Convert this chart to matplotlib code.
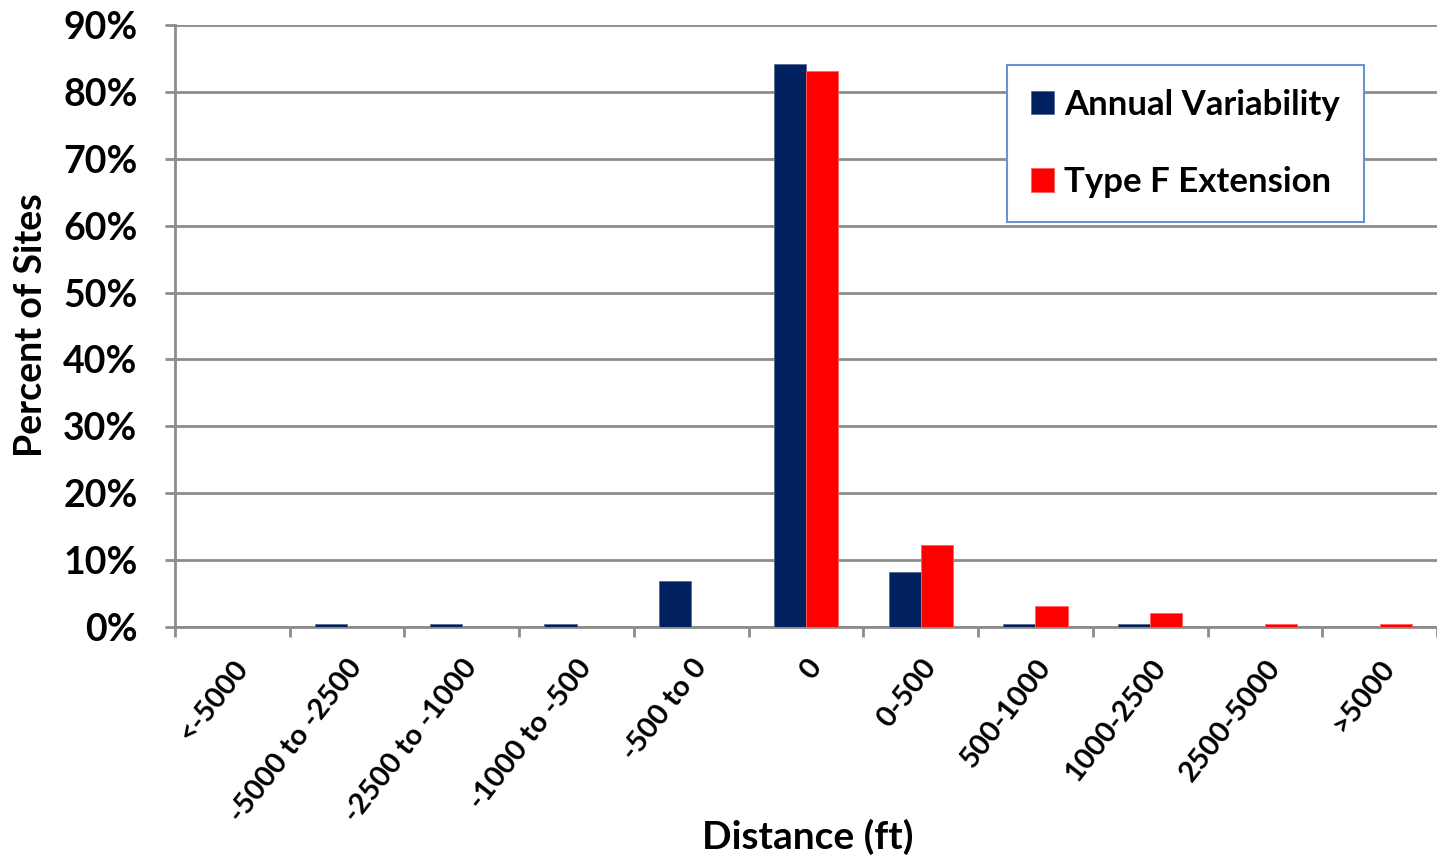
import numpy as np
import matplotlib
matplotlib.use("Agg")
import matplotlib.pyplot as plt
from matplotlib.ticker import FuncFormatter

categories = ["<-5000", "-5000 to -2500", "-2500 to -1000", "-1000 to -500",
              "-500 to 0", "0", "0-500", "500-1000", "1000-2500", "2500-5000", ">5000"]
annual = [0.0, 0.5, 0.5, 0.5, 6.9, 84.2, 8.2, 0.5, 0.5, 0.0, 0.0]
typef = [0.0, 0.0, 0.0, 0.0, 0.0, 83.1, 12.3, 3.2, 2.1, 0.5, 0.5]

plt.rcParams['font.family'] = ['Lato', 'DejaVu Sans']

fig = plt.figure(figsize=(14.37, 8.61), dpi=100)
ax = fig.add_axes([0.1218, 0.2718, 0.8782, 0.6992])

x = np.arange(len(categories))
w = 0.28
ax.bar(x - w/2, annual, w, color='#002060', edgecolor='#5a6a90', linewidth=0.6,
       label='Annual Variability', zorder=3)
ax.bar(x + w/2, typef, w, color='#ff0000', edgecolor='#ff6060', linewidth=0.6,
       label='Type F Extension', zorder=3)

ax.set_xlim(-0.5, len(categories) - 0.5)
ax.set_ylim(0, 90)
ax.set_yticks(np.arange(0, 91, 10))
ax.yaxis.set_major_formatter(FuncFormatter(lambda v, p: '%d%%' % v))
ax.grid(axis='y', color='#8c8c8c', linewidth=2, zorder=0)

ax.set_xticks(np.arange(-0.5, len(categories) - 0.4, 1.0))
ax.set_xticklabels([])
ax.set_xticks(x, minor=True)
ax.set_xticklabels(categories, minor=True, rotation=52, ha='right', va='top',
                   rotation_mode='anchor', fontsize=21, fontweight='bold')
ax.tick_params(axis='x', which='minor', length=0, pad=20)
ax.tick_params(axis='x', which='major', length=7, width=2, color='#8c8c8c')
ax.tick_params(axis='y', length=7, width=2, color='#8c8c8c', labelsize=27, pad=20)
for lab in ax.get_yticklabels():
    lab.set_fontweight('bold')

for s in ['top', 'right']:
    ax.spines[s].set_visible(False)
for s in ['left', 'bottom']:
    ax.spines[s].set_color('#8c8c8c')
    ax.spines[s].set_linewidth(2)

ax.set_ylabel('Percent of Sites', fontsize=27, fontweight='bold')
ax.yaxis.set_label_coords(-0.101, 0.502)
ax.set_xlabel('Distance (ft)', fontsize=28, fontweight='bold')
ax.xaxis.set_label_coords(0.5016, -0.318)

leg = ax.legend(loc='upper left', bbox_to_anchor=(0.659, 0.934),
                prop={'weight': 'bold', 'size': 25}, fancybox=False,
                handlelength=0.65, handleheight=0.65, handletextpad=0.3,
                labelspacing=1.3, borderpad=0.7, borderaxespad=0)
leg.get_frame().set_edgecolor('#6a93cc')
leg.get_frame().set_linewidth(1.5)
leg.get_frame().set_alpha(1)

fig.savefig('out.png', dpi=100)
